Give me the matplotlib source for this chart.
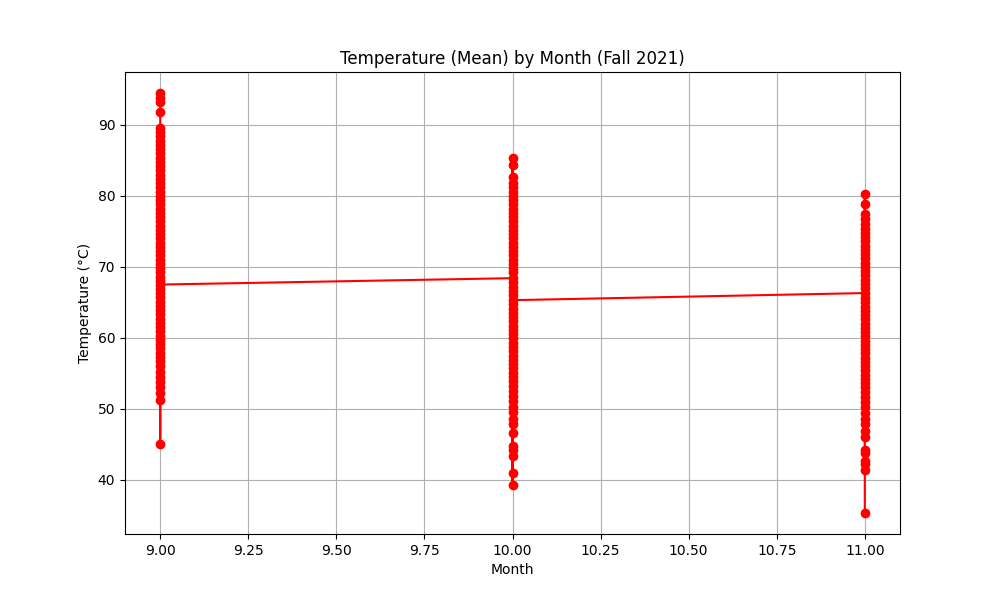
import matplotlib
matplotlib.use("Agg")
import matplotlib.pyplot as plt

# temperatures, in plotting order per month
sep_temps = [
    94.5, 93.8, 93.2, 91.8, 89.5, 89.0, 88.4, 87.8, 87.2, 86.6, 86.0, 85.4, 84.8,
    84.2, 83.6, 83.0, 82.4, 81.8, 81.2, 80.6, 80.0, 79.4, 78.8, 78.2, 77.6, 77.0,
    76.4, 75.8, 75.2, 74.6, 74.0, 73.4, 72.8, 72.2, 71.6, 71.0, 70.4, 69.8, 69.2,
    68.6, 68.0, 66.9, 66.3, 65.7, 65.1, 64.5, 63.9, 63.3, 62.7, 62.1, 61.5, 60.9,
    60.3, 59.7, 59.1, 58.5, 57.9, 57.3, 56.7, 56.0, 55.2, 54.5, 53.8, 53.1, 52.2,
    51.2, 45.0, 67.5,
]
oct_temps = [
    68.4, 85.4, 84.3, 82.6, 81.8, 81.2, 80.6, 80.0, 79.4, 78.8, 78.2, 77.6, 77.0,
    76.4, 75.8, 75.2, 74.6, 74.0, 73.4, 72.8, 72.2, 71.6, 71.0, 70.4, 69.8, 69.2,
    67.8, 67.2, 66.6, 66.0, 64.7, 64.1, 63.5, 62.9, 62.3, 61.7, 61.1, 60.5, 59.9,
    59.3, 58.7, 58.1, 57.5, 56.9, 56.3, 55.7, 55.1, 54.5, 53.9, 53.2, 52.5, 51.8,
    51.1, 50.3, 49.5, 48.6, 47.8, 46.6, 44.8, 44.2, 43.4, 41.0, 39.2, 65.3,
]
nov_temps = [
    66.3, 80.3, 78.8, 77.4, 76.8, 76.0, 75.4, 74.8, 74.2, 73.6, 73.0, 72.4, 71.8,
    71.2, 70.6, 70.0, 69.4, 68.8, 68.2, 67.6, 67.0, 65.6, 65.0, 64.4, 63.8, 63.2,
    62.6, 62.0, 61.4, 60.8, 60.2, 59.6, 59.0, 58.4, 57.8, 57.2, 56.6, 56.0, 55.4,
    54.8, 54.2, 53.6, 53.0, 52.3, 51.6, 50.9, 50.2, 49.4, 48.6, 47.8, 46.8, 46.0,
    44.2, 43.8, 42.6, 42.2, 41.3, 35.3,
]

months = [9] * len(sep_temps) + [10] * len(oct_temps) + [11] * len(nov_temps)
temps = sep_temps + oct_temps + nov_temps

plt.figure(figsize=(10, 6))
plt.plot(months, temps, marker="o", color="r")
plt.title("Temperature (Mean) by Month (Fall 2021)")
plt.xlabel("Month")
plt.ylabel("Temperature (°C)")
plt.grid(True)
plt.savefig("out.png")
